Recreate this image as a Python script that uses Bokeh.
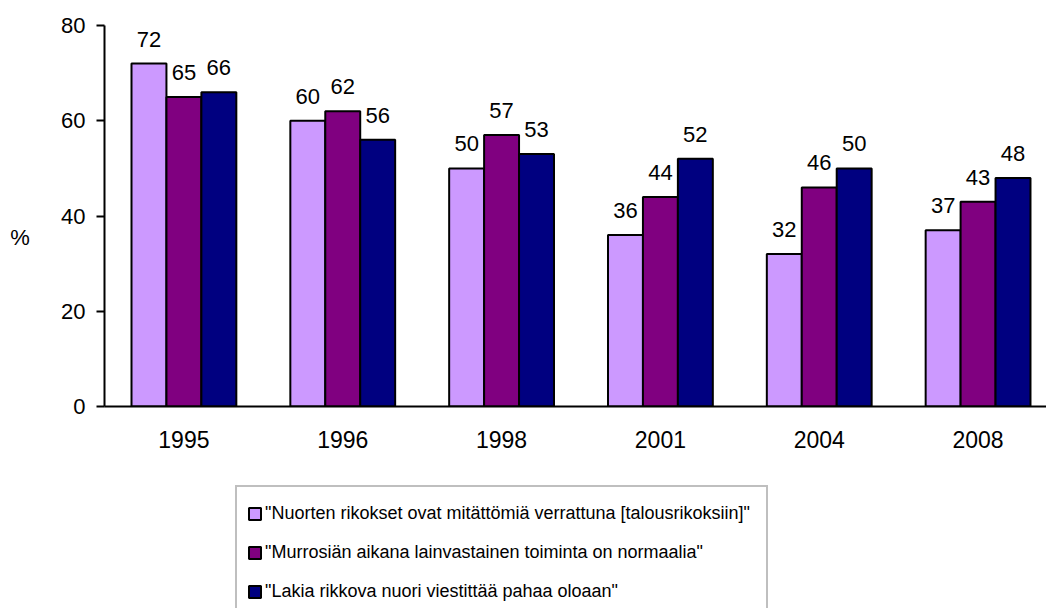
import numpy as np
from bokeh.plotting import figure
from bokeh.layouts import column, row
from bokeh.models import (ColumnDataSource, LabelSet, Legend, LegendItem,
                          Range1d, FixedTicker)
from bokeh.core.properties import value
from bokeh.embed import file_html
from bokeh.resources import INLINE

# ---- data ----
years = ["1995", "1996", "1998", "2001", "2004", "2008"]
series_names = [
    '"Nuorten rikokset ovat mitättömiä verrattuna [talousrikoksiin]"',
    '"Murrosiän aikana lainvastainen toiminta on normaalia"',
    '"Lakia rikkova nuori viestittää pahaa oloaan"',
]
s1 = [72, 60, 50, 36, 32, 37]
s2 = [65, 62, 57, 44, 46, 43]
s3 = [66, 56, 53, 52, 50, 48]
y_ticks = [0, 20, 40, 60, 80]
y_label = "%"

colors = ["#CC99FF", "#800080", "#000080"]
FONT = "Liberation Sans"

TOTAL_W, TOTAL_H = 1046, 608
LEFT_W = 58          # strip holding the "%" label
TOP_H = 466          # chart part height
unit_px = 159.0

pos = np.arange(1, len(years) + 1)

# ---- main chart ----
main_w = TOTAL_W - LEFT_W
frame_w = main_w - 45
p = figure(width=main_w, height=TOP_H, output_backend="svg", toolbar_location=None,
           x_range=Range1d(0.5, 0.5 + frame_w / unit_px), y_range=Range1d(0, 80),
           min_border_left=45, min_border_right=0, min_border_top=25,
           min_border_bottom=TOP_H - 25 - 381)
p.outline_line_color = None
p.grid.visible = False

bw = 0.22
offs = [-bw, 0.0, bw]
for vals, off, col in zip([s1, s2, s3], offs, colors):
    src = ColumnDataSource(dict(x=pos + off, top=vals, lab=[str(v) for v in vals]))
    p.vbar(x="x", top="top", bottom=0, width=bw, source=src,
           fill_color=col, line_color="black", line_width=2)
    p.add_layout(LabelSet(x="x", y="top", text="lab", source=src,
                          text_align="center", text_baseline="alphabetic",
                          y_offset=17, text_font=value(FONT),
                          text_font_size=value("22px"), text_color="black"))

p.xaxis.ticker = FixedTicker(ticks=[float(v) for v in pos])
p.xaxis.major_label_overrides = {int(k): y for k, y in zip(pos, years)}
p.xaxis.axis_line_width = 2
p.xaxis.axis_line_color = "black"
p.xaxis.major_tick_out = 0
p.xaxis.major_tick_in = 0
p.xaxis.minor_tick_out = 0
p.xaxis.minor_tick_in = 0
p.xaxis.major_label_text_font = FONT
p.xaxis.major_label_text_font_size = "23px"
p.xaxis.major_label_text_color = "black"
p.xaxis.major_label_standoff = 24

p.yaxis.ticker = FixedTicker(ticks=y_ticks)
p.yaxis.axis_line_width = 2
p.yaxis.axis_line_color = "black"
p.yaxis.major_tick_out = 8
p.yaxis.major_tick_in = 0
p.yaxis.major_tick_line_width = 2
p.yaxis.major_tick_line_color = "black"
p.yaxis.minor_tick_out = 0
p.yaxis.minor_tick_in = 0
p.yaxis.major_label_text_font = FONT
p.yaxis.major_label_text_font_size = "22px"
p.yaxis.major_label_text_color = "black"
p.yaxis.major_label_standoff = 11

# ---- left strip with the "%" axis title ----
pl = figure(width=LEFT_W, height=TOP_H, output_backend="svg", toolbar_location=None,
            x_range=Range1d(0, LEFT_W), y_range=Range1d(TOP_H, 0),
            min_border=0, x_axis_location=None, y_axis_location=None)
pl.outline_line_color = None
pl.grid.visible = False
pl.text(x=[19.5], y=[259], text=[y_label], text_align="center",
        text_baseline="middle", text_font=value(FONT),
        text_font_size="22px", text_color="black")

# ---- legend strip ----
LEG_H = TOTAL_H - TOP_H
pg = figure(width=TOTAL_W, height=LEG_H, output_backend="svg", toolbar_location=None,
            x_range=Range1d(-2, -1), y_range=Range1d(0, 1),
            min_border=0, x_axis_location=None, y_axis_location=None)
pg.outline_line_color = None
pg.grid.visible = False
proxies = []
for vals, col in zip([s1, s2, s3], colors):
    src = ColumnDataSource(dict(x=pos, top=vals))
    r = pg.vbar(x="x", top="top", width=0.1, source=src,
                fill_color=col, line_color="black", line_width=2)
    r.visible = False
    proxies.append(r)

PAD, ROW_H, GAP = 10, 33, 6
legend_h = PAD * 2 + ROW_H * 3 + GAP * 2
legend = Legend(items=[LegendItem(label=n, renderers=[r])
                       for n, r in zip(series_names, proxies)],
                location=(235, LEG_H - 23 - legend_h), orientation="vertical",
                glyph_width=15, glyph_height=15, label_standoff=3,
                label_height=ROW_H, label_width=491, spacing=GAP, padding=PAD,
                margin=0, click_policy="none",
                border_line_color="#808080", border_line_width=2,
                background_fill_color="white", background_fill_alpha=1,
                label_text_font=FONT, label_text_font_size="18px",
                label_text_color="black")
pg.add_layout(legend)

layout = column(row(pl, p, spacing=0), pg, spacing=0)
open("out.html", "w").write(file_html(layout, INLINE))
